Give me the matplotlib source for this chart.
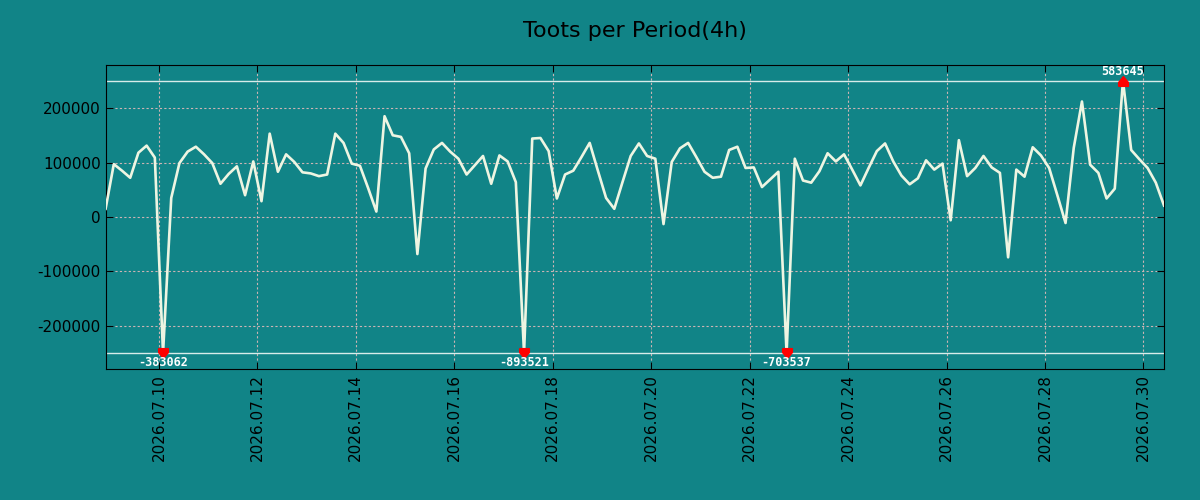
from matplotlib import pyplot as plt
import matplotlib.dates as mdates
import numpy as np
import pandas as pd

plt.rcParams['axes.unicode_minus'] = False

# toots per 4h period, starting 2026.07.08 22:00
start = '2026-07-08 22:00'
toots = [15000, 97000, 85000, 72000, 118000, 131000, 109000, -383062, 35000, 99000,
         120000, 129000, 115000, 99000, 61000, 79000, 93000, 40000, 102000, 29000,
         153000, 83000, 115000, 101000, 82000, 80000, 75000, 78000, 153000, 136000,
         98000, 94000, 53000, 10000, 185000, 150000, 147000, 117000, -68000, 89000,
         124000, 136000, 120000, 107000, 78000, 95000, 112000, 61000, 113000, 102000,
         64000, -893521, 144000, 145000, 121000, 34000, 78000, 85000, 110000, 136000,
         85000, 35000, 15000, 64000, 112000, 135000, 112000, 107000, -13000, 101000,
         126000, 136000, 110000, 83000, 72000, 74000, 123000, 129000, 90000, 91000,
         55000, 69000, 83000, -703537, 107000, 67000, 63000, 84000, 117000, 102000,
         115000, 87000, 58000, 90000, 121000, 135000, 102000, 76000, 60000, 71000,
         104000, 87000, 98000, -6000, 141000, 75000, 90000, 112000, 91000, 81000,
         -74000, 87000, 74000, 128000, 113000, 90000, 40000, -11000, 127000, 212000,
         96000, 81000, 34000, 52000, 583645, 123000, 106000, 90000, 63000, 21000]
limit = 250000

times = pd.date_range(start, periods=len(toots), freq='4h')
values = np.array(toots)
shown = np.clip(values, -limit, limit)

bg = '#118487'
fig = plt.figure(figsize=(12, 5), dpi=100, facecolor=bg)
ax = fig.add_axes([0.088, 0.262, 0.882, 0.608], facecolor=bg)

ax.plot(times, shown, color='#eef5e2', linewidth=1.9, zorder=3)
ax.axhline(limit, color='#d8ecea', linewidth=1, zorder=2)
ax.axhline(-limit, color='#d8ecea', linewidth=1, zorder=2)

house_down = [(-1, 1), (1, 1), (1, 0.2), (0, -1), (-1, 0.2), (-1, 1)]
house_up = [(-1, -1), (1, -1), (1, -0.2), (0, 1), (-1, -0.2), (-1, -1)]
for t, v, s in zip(times, values, shown):
    if v < -limit:
        ax.plot(t, s, marker=house_down, color='red', markersize=7, zorder=4)
        ax.annotate(str(v), (t, s), xytext=(0, -7), textcoords='offset points',
                    ha='center', va='center', color='white', fontsize=8.5,
                    family='DejaVu Sans Mono', fontweight='bold', zorder=5)
    elif v > limit:
        ax.plot(t, s, marker=house_up, color='red', markersize=7, zorder=4)
        ax.annotate(str(v), (t, s), xytext=(0, 6.5), textcoords='offset points',
                    ha='center', va='center', color='white', fontsize=8.5,
                    family='DejaVu Sans Mono', fontweight='bold', zorder=5)

ax.set_xlim(times[0], times[-1])
ax.set_ylim(-279000, 279000)
ax.set_yticks(np.arange(-200000, 200001, 100000))
ax.xaxis.set_major_locator(mdates.DayLocator(bymonthday=range(2, 32, 2)))
ax.xaxis.set_major_formatter(mdates.DateFormatter('%Y.%m.%d'))
ax.tick_params(direction='in', top=True, right=True, length=5, labelsize=11, colors='black')
plt.xticks(rotation=90)
ax.grid(True, color='#ccb4b4', linestyle=(0, (2, 2)), linewidth=0.8)
for sp in ax.spines.values():
    sp.set_color('black')

ax.set_title('Toots per Period(4h)', fontsize=16, pad=20)

fig.savefig('out.png', dpi=100, facecolor=bg)
